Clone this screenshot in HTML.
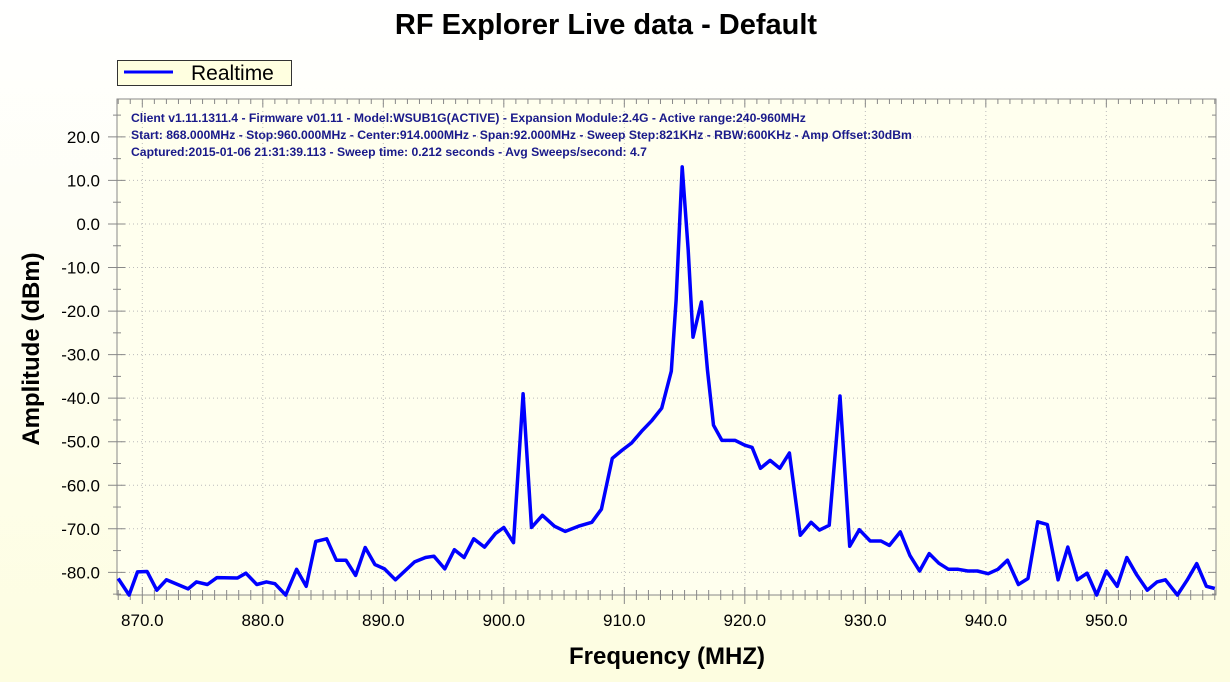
<!DOCTYPE html>
<html><head><meta charset="utf-8"><style>
body{margin:0;width:1230px;height:682px;overflow:hidden;background:linear-gradient(#ffffff,#fdfde0);font-family:"Liberation Sans",sans-serif}
</style></head><body>
<svg id="chart" width="1230" height="682" font-family="Liberation Sans, sans-serif">
<text x="606" y="34" text-anchor="middle" font-size="29" font-weight="bold">RF Explorer Live data - Default</text>
<g>
<rect x="117.5" y="60.5" width="174" height="25" fill="#ffffe0" stroke="#333"/>
<line x1="124" y1="72" x2="173" y2="72" stroke="#0000ff" stroke-width="3"/>
<text x="191" y="80" font-size="21">Realtime</text>
</g>
<rect x="117" y="99" width="1099" height="496" fill="#ffffee" stroke="#888"/>
<g id="grid"></g><g id="ticks"></g>
<g font-size="12.2" font-weight="bold" fill="#1a1a8a">
<text x="131" y="122">Client v1.11.1311.4 - Firmware v01.11 - Model:WSUB1G(ACTIVE) - Expansion Module:2.4G - Active range:240-960MHz</text>
<text x="131" y="139">Start: 868.000MHz - Stop:960.000MHz - Center:914.000MHz - Span:92.000MHz - Sweep Step:821KHz - RBW:600KHz - Amp Offset:30dBm</text>
<text x="131" y="156">Captured:2015-01-06 21:31:39.113 - Sweep time: 0.212 seconds - Avg Sweeps/second: 4.7</text>
</g>
<path id="series" fill="none" stroke="#0000ff" stroke-width="3.5" stroke-linejoin="round"/>
<text x="667" y="664" text-anchor="middle" font-size="24" font-weight="bold">Frequency (MHZ)</text>
<text transform="translate(39,349) rotate(-90)" text-anchor="middle" font-size="24" font-weight="bold">Amplitude (dBm)</text>
</svg>
<script>
const freqs=[868.0,868.9,869.6,870.4,871.2,872.0,873.8,874.5,875.4,876.2,877.9,878.6,879.5,880.3,881.0,881.9,882.8,883.6,884.4,885.3,886.1,886.9,887.7,888.5,889.3,890.1,891.0,892.6,893.5,894.2,895.1,895.9,896.7,897.5,898.4,899.3,900.0,900.8,901.6,902.3,903.2,904.2,905.1,906.2,907.3,908.1,909.0,909.8,910.6,911.5,912.3,913.1,913.9,914.3,914.8,915.3,915.7,916.4,916.9,917.4,918.1,919.2,920.0,920.6,921.3,922.1,922.9,923.7,924.6,925.5,926.2,927.0,927.9,928.7,929.5,930.4,931.3,932.0,932.9,933.7,934.5,935.3,936.1,936.9,937.7,938.5,939.3,940.2,941.0,941.8,942.7,943.5,944.3,945.1,946.0,946.8,947.6,948.4,949.2,950.0,950.9,951.7,952.5,953.4,954.2,954.9,955.9,956.7,957.5,958.3,959.0];
const amps=[-81.4,-85.3,-79.9,-79.8,-84.1,-81.7,-83.8,-82.2,-82.8,-81.2,-81.3,-80.2,-82.8,-82.2,-82.6,-85.3,-79.3,-83.2,-72.9,-72.3,-77.2,-77.2,-80.7,-74.3,-78.2,-79.2,-81.7,-77.6,-76.6,-76.3,-79.2,-74.8,-76.6,-72.3,-74.2,-71.1,-69.7,-73.2,-39,-69.7,-66.9,-69.4,-70.6,-69.4,-68.5,-65.5,-53.8,-52,-50.3,-47.4,-45.1,-42.3,-33.8,-17.5,13.1,-6,-26,-17.9,-33.6,-46.2,-49.7,-49.7,-50.8,-51.3,-56.1,-54.3,-56.1,-52.6,-71.5,-68.5,-70.3,-69.2,-39.5,-74,-70.2,-72.8,-72.8,-73.8,-70.7,-76.1,-79.7,-75.7,-77.9,-79.3,-79.3,-79.7,-79.7,-80.3,-79.3,-77.2,-82.8,-81.4,-68.4,-69,-81.7,-74.2,-81.7,-80.2,-85.3,-79.7,-83.2,-76.6,-80.5,-84.1,-82.2,-81.7,-85.3,-81.8,-78,-83.2,-83.7];
const xTicks=[870,880,890,900,910,920,930,940,950];
const yTicks=[20,10,0,-10,-20,-30,-40,-50,-60,-70,-80];
const X0=117,X1=1216,Y0=99,Y1=595,FMIN=867.9,FMAX=959.1,VMIN=-85.2,VMAX=28.7;
const xs=f=>X0+(f-FMIN)/(FMAX-FMIN)*(X1-X0);
const ys=v=>Y1-(v-VMIN)/(VMAX-VMIN)*(Y1-Y0);
const NS='http://www.w3.org/2000/svg';
const svg=document.getElementById('chart'),grid=document.getElementById('grid'),tk=document.getElementById('ticks');
function mk(p,tag,a){const e=document.createElementNS(NS,tag);for(const k in a)e.setAttribute(k,a[k]);p.appendChild(e);return e;}
xTicks.forEach(t=>{const x=xs(t);
 const g=mk(grid,'line',{x1:x,x2:x,y1:Y0,y2:Y1,stroke:'#bbb','stroke-dasharray':'1,3'});
 
 
 const l=mk(tk,'text',{x:x,y:626,'text-anchor':'middle','font-size':'17'});l.textContent=t.toFixed(1);
 
 
});
for(let f=868;f<=959;f++){const x=xs(f);const maj=f%10===0;
 mk(tk,'line',{x1:x,x2:x,y1:Y1-(maj?8:5),y2:Y1+(maj?9:5),stroke:'#888'});
 mk(tk,'line',{x1:x,x2:x,y1:Y0,y2:Y0+(maj?8:5),stroke:'#888'});}
yTicks.forEach(t=>{const y=ys(t);
 const g=mk(grid,'line',{x1:X0,x2:X1,y1:y,y2:y,stroke:'#bbb','stroke-dasharray':'1,3'});
 
 
 const l=mk(tk,'text',{x:100,y:y+6,'text-anchor':'end','font-size':'17'});l.textContent=t.toFixed(1);
 
 
});
for(let v=-85;v<=25;v+=5){const y=ys(v);const maj=v%10===0;
 mk(tk,'line',{x1:X0-(maj?9:4),x2:X0+(maj?8:4),y1:y,y2:y,stroke:'#888'});
 mk(tk,'line',{x1:X1-(maj?8:4),x2:X1,y1:y,y2:y,stroke:'#888'});}
let d='';freqs.forEach((f,i)=>{d+=(i?'L':'M')+xs(f).toFixed(1)+','+Math.min(ys(amps[i]),Y1).toFixed(1);});
document.getElementById('series').setAttribute('d',d);
</script>
</body></html>
